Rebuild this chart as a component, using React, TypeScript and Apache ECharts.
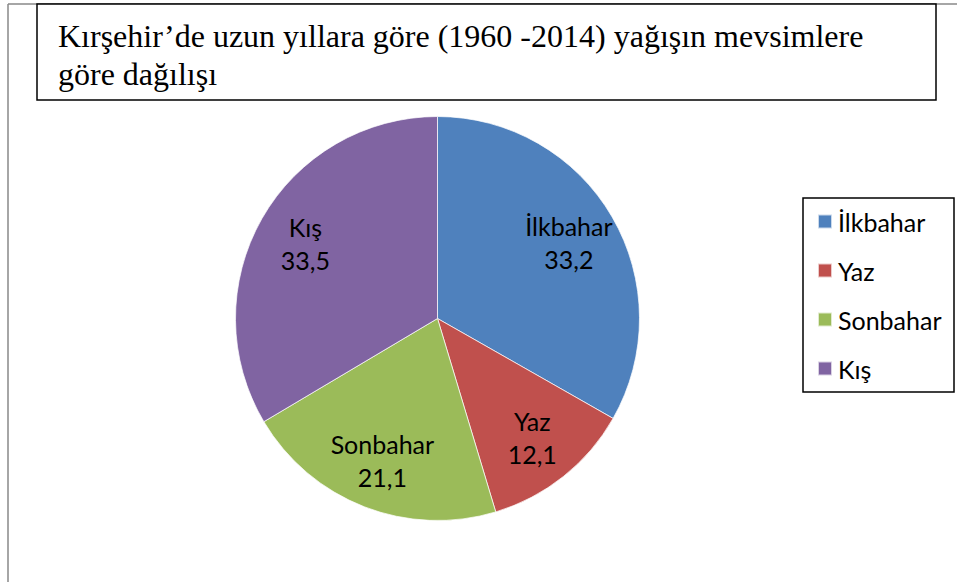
import React, { useEffect, useRef } from "react";
import * as echarts from "echarts";

const titleText = "Kırşehir’de uzun yıllara göre (1960 -2014) yağışın mevsimlere\ngöre dağılışı";
const seasons = ["İlkbahar", "Yaz", "Sonbahar", "Kış"];
const shares = [33.2, 12.1, 21.1, 33.5];
const colors = ["#4F81BD", "#C0504D", "#9BBB59", "#8064A2"];

const fmt = (v: number) => v.toFixed(1).replace(".", ",");

export default function App() {
  const ref = useRef<HTMLDivElement>(null);
  useEffect(() => {
    if (!ref.current) return;
    const chart = echarts.init(ref.current, null, { renderer: "svg" });
    const data = seasons.map((n, i) => ({ name: n, value: shares[i], itemStyle: { color: colors[i] } }));
    chart.setOption({
      animation: false,
      backgroundColor: "#ffffff",
      title: {
        text: titleText,
        left: 58,
        top: 17,
        padding: 0,
        textStyle: {
          fontFamily: "Liberation Serif",
          fontSize: 32,
          lineHeight: 38,
          fontWeight: "normal",
          color: "#000",
        },
      },
      graphic: [
        { type: "line", shape: { x1: 8, y1: 4, x2: 8, y2: 582 }, style: { stroke: "#898989", lineWidth: 1.5 }, z: 0 },
        { type: "line", shape: { x1: 8, y1: 4, x2: 957, y2: 4 }, style: { stroke: "#898989", lineWidth: 1.5 }, z: 0 },
        { type: "rect", shape: { x: 37, y: 4, width: 899, height: 96 }, style: { fill: "#fff", stroke: "#000", lineWidth: 1.5 }, z: 1 },
        { type: "rect", shape: { x: 803, y: 198, width: 151, height: 194 }, style: { fill: "transparent", stroke: "#000", lineWidth: 1.5 }, z: 1 },
      ],
      legend: {
        orient: "vertical",
        left: 817,
        top: 209,
        padding: 0,
        itemWidth: 14,
        itemHeight: 14,
        itemGap: 24,
        icon: "rect",
        data: seasons,
        textStyle: { fontFamily: "Lato", fontSize: 25, lineHeight: 24, color: "#000", padding: [0, 0, 0, 1] },
      },
      series: [
        {
          type: "pie",
          center: [437.5, 318.5],
          radius: 202,
          startAngle: 90,
          clockwise: true,
          data,
          label: { show: false },
          labelLine: { show: false },
          itemStyle: { borderColor: "rgba(255,255,255,0.7)", borderWidth: 1 },
          emphasis: { disabled: true },
          silent: true,
        },
        {
          type: "pie",
          center: [437.5, 318.5],
          radius: [96, 202],
          startAngle: 90,
          clockwise: true,
          silent: true,
          data: seasons.map((n, i) => ({ name: n, value: shares[i] })),
          itemStyle: { color: "transparent", borderWidth: 0 },
          label: {
            show: true,
            position: "inside",
            formatter: (p: any) => `${p.name}\n${fmt(p.value)}`,
            fontFamily: "Lato",
            fontSize: 25,
            lineHeight: 33,
            color: "#000",
          },
          labelLine: { show: false },
          emphasis: { disabled: true },
        },
      ],
    });
    return () => chart.dispose();
  }, []);
  return <div ref={ref} style={{ position: "fixed", left: 0, top: 0, width: 957, height: 582 }} />;
}
